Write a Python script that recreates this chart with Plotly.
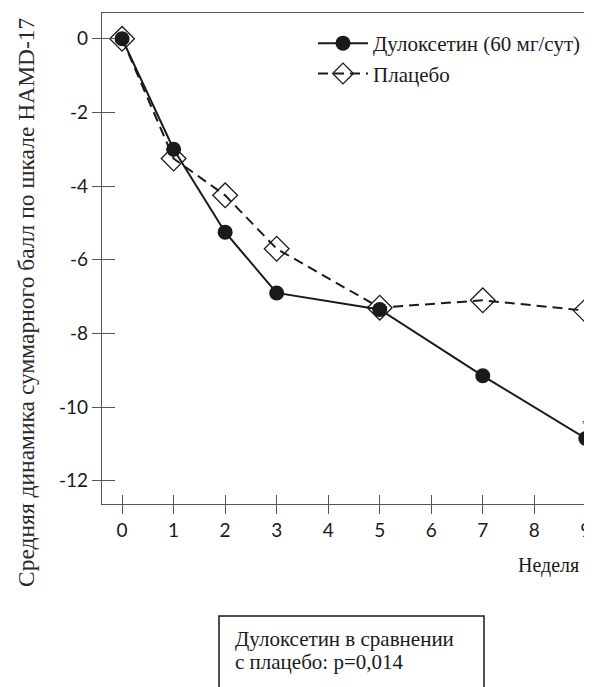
import plotly.graph_objects as go

weeks = [0, 1, 2, 3, 5, 7, 9]
duloxetine = [0, -3.0, -5.25, -6.9, -7.35, -9.15, -10.85]
placebo = [0, -3.25, -4.25, -5.7, -7.3, -7.1, -7.38]

x_ticks = [0, 1, 2, 3, 4, 5, 6, 7, 8, 9]
y_ticks = [0, -2, -4, -6, -8, -10, -12]
y_tick_text = ["0", "-2", "-4", "-6", "-8", "-10", "-12"]

name_dul = "Дулоксетин (60 мг/сут)"
name_pla = "Плацебо"
y_title = "Средняя динамика суммарного балл по шкале HAMD-17"
x_title = "Неделя"
note_1 = "Дулоксетин в сравнении"
note_2 = "с плацебо: p=0,014"

serif = "Liberation Serif, Times New Roman, serif"
sans = "Lato, DejaVu Sans, sans-serif"
ink = "#1a1a1a"
axis_col = "#555"

# page body has an 8px margin; figure is sized to fill the rest of the window
W, H = 584, 679
L, T, R, B = 94, 5, 0, 183


def px(xr):  # reference x pixel -> paper x
    return (xr - 102) / 490


def py(yr):  # reference y pixel -> paper y
    return (504 - yr) / 491


fig = go.Figure()
fig.add_trace(go.Scatter(
    x=weeks, y=placebo, name=name_pla, mode="lines+markers", legendrank=2,
    line=dict(color=ink, width=2, dash="10px,6px"),
    marker=dict(symbol="diamond-open", size=19, color=ink, line=dict(width=1.3)),
))
fig.add_trace(go.Scatter(
    x=weeks, y=duloxetine, name=name_dul, mode="lines+markers", legendrank=1,
    line=dict(color=ink, width=2),
    marker=dict(symbol="circle", size=15, color=ink),
))
# dummy trace so the inner-tick overlay axes get drawn
fig.add_trace(go.Scatter(x=[None], y=[None], xaxis="x2", yaxis="y2",
                         showlegend=False, hoverinfo="skip"))

xr = [-0.39, 9.12]
yr = [-12.63, 0.7]

fig.update_layout(
    width=W, height=H,
    margin=dict(l=L, r=R, t=T, b=B, autoexpand=False),
    paper_bgcolor="white", plot_bgcolor="white",
    showlegend=True,
    legend=dict(x=px(313), y=py(23), xanchor="left", yanchor="top",
                traceorder="normal", bgcolor="rgba(0,0,0,0)",
                font=dict(family=serif, size=21, color=ink),
                itemwidth=50, tracegroupgap=0),
    xaxis=dict(range=xr, tickvals=x_ticks, ticks="outside", ticklen=9,
               tickcolor=axis_col, tickwidth=1.2, showline=True, linecolor=axis_col,
               linewidth=1.3, mirror=True, showgrid=False, zeroline=False,
               tickfont=dict(family=sans, size=19, color=ink)),
    yaxis=dict(range=yr, tickvals=y_ticks, ticktext=y_tick_text, ticks="outside",
               ticklen=9, tickcolor=axis_col, tickwidth=1.2, showline=True,
               linecolor=axis_col, linewidth=1.3, showgrid=False, zeroline=False,
               tickfont=dict(family=sans, size=19, color=ink)),
    xaxis2=dict(range=xr, overlaying="x", anchor="y2", tickvals=x_ticks,
                ticks="inside", ticklen=9, tickcolor=axis_col, tickwidth=1.2,
                showticklabels=False, showline=False, showgrid=False, zeroline=False),
    yaxis2=dict(range=yr, overlaying="y", anchor="x2", tickvals=y_ticks,
                ticks="inside", ticklen=13, tickcolor=axis_col, tickwidth=1.2,
                showticklabels=False, showline=False, showgrid=False, zeroline=False),
)

fig.add_annotation(text=y_title, xref="paper", yref="paper",
                   x=px(26), y=py(302), textangle=-90,
                   xanchor="center", yanchor="middle",
                   showarrow=False, font=dict(family=serif, size=23.5, color="#2a2a2a"))
fig.add_annotation(text=x_title, xref="paper", yref="paper",
                   x=px(548), y=py(565), xanchor="center", yanchor="middle",
                   showarrow=False, font=dict(family=serif, size=20, color=ink))
fig.add_annotation(text="*", x=9, y=-10.45, xref="x", yref="y",
                   xanchor="center", yanchor="middle",
                   showarrow=False, font=dict(family=serif, size=13, color=ink))
fig.add_shape(type="rect", xref="paper", yref="paper",
              x0=px(219), x1=px(484), y0=py(616), y1=py(760),
              line=dict(color=ink, width=1.5), fillcolor="white")
fig.add_annotation(text=note_1, xref="paper", yref="paper",
                   x=px(233), y=py(639), xanchor="left", yanchor="middle",
                   showarrow=False, font=dict(family=serif, size=21, color=ink))
fig.add_annotation(text=note_2, xref="paper", yref="paper",
                   x=px(233), y=py(662), xanchor="left", yanchor="middle",
                   showarrow=False, font=dict(family=serif, size=21, color=ink))

fig.write_html("out.html")
